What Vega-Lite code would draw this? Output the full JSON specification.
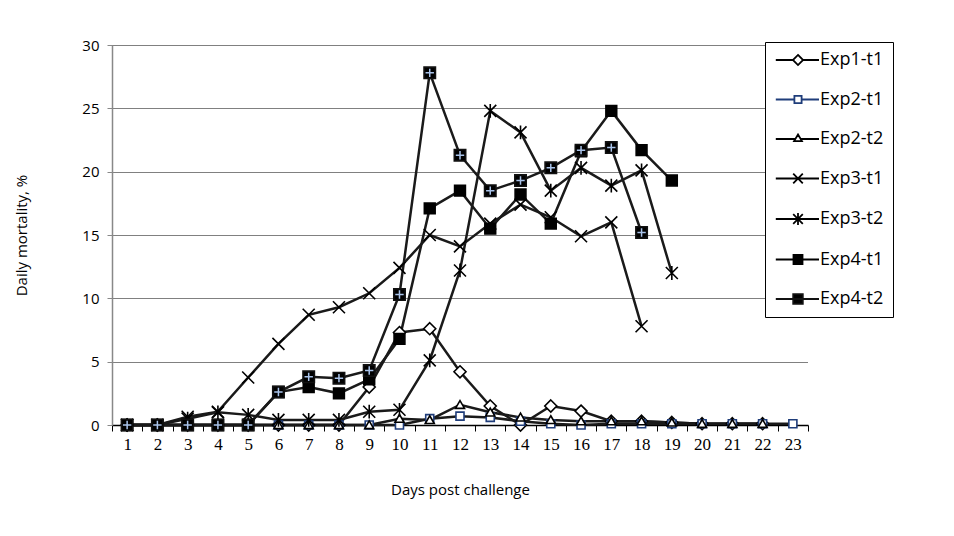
{
  "$schema": "https://vega.github.io/schema/vega-lite/v6.json",
  "width": 696,
  "height": 380,
  "autosize": {"type": "none"},
  "padding": {"left": 112, "top": 45, "right": 146, "bottom": 111},
  "background": "white",
  "config": {
    "view": {"stroke": null},
    "legend": {
      "orient": "none",
      "legendX": 653,
      "legendY": -3,
      "strokeColor": "black",
      "fillColor": "white",
      "padding": 9,
      "symbolSize": 144,
      "symbolStrokeWidth": 1.8,
      "symbolOffset": 15,
      "labelOffset": 13,
      "rowPadding": 21.5,
      "labelFont": "Open Sans",
      "labelFontSize": 18,
      "labelColor": "black",
      "cornerRadius": 0
    }
  },
  "data": {
    "values": [
      {"s":"Exp1-t1","d":1,"v":0},{"s":"Exp1-t1","d":2,"v":0},{"s":"Exp1-t1","d":3,"v":0},{"s":"Exp1-t1","d":4,"v":0},{"s":"Exp1-t1","d":5,"v":0},{"s":"Exp1-t1","d":6,"v":0},{"s":"Exp1-t1","d":7,"v":0},{"s":"Exp1-t1","d":8,"v":0},{"s":"Exp1-t1","d":9,"v":3.0},{"s":"Exp1-t1","d":10,"v":7.3},{"s":"Exp1-t1","d":11,"v":7.6},{"s":"Exp1-t1","d":12,"v":4.2},{"s":"Exp1-t1","d":13,"v":1.5},{"s":"Exp1-t1","d":14,"v":0},{"s":"Exp1-t1","d":15,"v":1.5},{"s":"Exp1-t1","d":16,"v":1.1},{"s":"Exp1-t1","d":17,"v":0.3},{"s":"Exp1-t1","d":18,"v":0.3},{"s":"Exp1-t1","d":19,"v":0.2},{"s":"Exp1-t1","d":20,"v":0.1},{"s":"Exp1-t1","d":21,"v":0.1},{"s":"Exp1-t1","d":22,"v":0.1},
      {"s":"Exp2-t1","d":1,"v":0},{"s":"Exp2-t1","d":2,"v":0},{"s":"Exp2-t1","d":3,"v":0},{"s":"Exp2-t1","d":4,"v":0},{"s":"Exp2-t1","d":5,"v":0},{"s":"Exp2-t1","d":6,"v":0},{"s":"Exp2-t1","d":7,"v":0},{"s":"Exp2-t1","d":8,"v":0},{"s":"Exp2-t1","d":9,"v":0},{"s":"Exp2-t1","d":10,"v":0},{"s":"Exp2-t1","d":11,"v":0.5},{"s":"Exp2-t1","d":12,"v":0.7},{"s":"Exp2-t1","d":13,"v":0.6},{"s":"Exp2-t1","d":14,"v":0.3},{"s":"Exp2-t1","d":15,"v":0.1},{"s":"Exp2-t1","d":16,"v":0},{"s":"Exp2-t1","d":17,"v":0.1},{"s":"Exp2-t1","d":18,"v":0.1},{"s":"Exp2-t1","d":19,"v":0.1},{"s":"Exp2-t1","d":20,"v":0.1},{"s":"Exp2-t1","d":21,"v":0.1},{"s":"Exp2-t1","d":22,"v":0.1},{"s":"Exp2-t1","d":23,"v":0.1},
      {"s":"Exp2-t2","d":1,"v":0},{"s":"Exp2-t2","d":2,"v":0},{"s":"Exp2-t2","d":3,"v":0},{"s":"Exp2-t2","d":4,"v":0},{"s":"Exp2-t2","d":5,"v":0},{"s":"Exp2-t2","d":6,"v":0},{"s":"Exp2-t2","d":7,"v":0},{"s":"Exp2-t2","d":8,"v":0},{"s":"Exp2-t2","d":9,"v":0},{"s":"Exp2-t2","d":10,"v":0.5},{"s":"Exp2-t2","d":11,"v":0.4},{"s":"Exp2-t2","d":12,"v":1.6},{"s":"Exp2-t2","d":13,"v":1.0},{"s":"Exp2-t2","d":14,"v":0.6},{"s":"Exp2-t2","d":15,"v":0.4},{"s":"Exp2-t2","d":16,"v":0.3},{"s":"Exp2-t2","d":17,"v":0.3},{"s":"Exp2-t2","d":18,"v":0.3},{"s":"Exp2-t2","d":19,"v":0.2},{"s":"Exp2-t2","d":20,"v":0.1},{"s":"Exp2-t2","d":21,"v":0.1},{"s":"Exp2-t2","d":22,"v":0.1},
      {"s":"Exp3-t1","d":1,"v":0},{"s":"Exp3-t1","d":2,"v":0},{"s":"Exp3-t1","d":3,"v":0.65},{"s":"Exp3-t1","d":4,"v":1.05},{"s":"Exp3-t1","d":5,"v":3.75},{"s":"Exp3-t1","d":6,"v":6.4},{"s":"Exp3-t1","d":7,"v":8.7},{"s":"Exp3-t1","d":8,"v":9.3},{"s":"Exp3-t1","d":9,"v":10.4},{"s":"Exp3-t1","d":10,"v":12.4},{"s":"Exp3-t1","d":11,"v":15.0},{"s":"Exp3-t1","d":12,"v":14.1},{"s":"Exp3-t1","d":13,"v":15.9},{"s":"Exp3-t1","d":14,"v":17.4},{"s":"Exp3-t1","d":15,"v":16.4},{"s":"Exp3-t1","d":16,"v":14.9},{"s":"Exp3-t1","d":17,"v":16.0},{"s":"Exp3-t1","d":18,"v":7.8},
      {"s":"Exp3-t2","d":1,"v":0},{"s":"Exp3-t2","d":2,"v":0},{"s":"Exp3-t2","d":3,"v":0.5},{"s":"Exp3-t2","d":4,"v":1.0},{"s":"Exp3-t2","d":5,"v":0.8},{"s":"Exp3-t2","d":6,"v":0.4},{"s":"Exp3-t2","d":7,"v":0.4},{"s":"Exp3-t2","d":8,"v":0.4},{"s":"Exp3-t2","d":9,"v":1.05},{"s":"Exp3-t2","d":10,"v":1.2},{"s":"Exp3-t2","d":11,"v":5.1},{"s":"Exp3-t2","d":12,"v":12.2},{"s":"Exp3-t2","d":13,"v":24.8},{"s":"Exp3-t2","d":14,"v":23.1},{"s":"Exp3-t2","d":15,"v":18.5},{"s":"Exp3-t2","d":16,"v":20.3},{"s":"Exp3-t2","d":17,"v":18.9},{"s":"Exp3-t2","d":18,"v":20.1},{"s":"Exp3-t2","d":19,"v":12.0},
      {"s":"Exp4-t1","d":1,"v":0},{"s":"Exp4-t1","d":2,"v":0},{"s":"Exp4-t1","d":3,"v":0},{"s":"Exp4-t1","d":4,"v":0},{"s":"Exp4-t1","d":5,"v":0},{"s":"Exp4-t1","d":6,"v":2.6},{"s":"Exp4-t1","d":7,"v":3.0},{"s":"Exp4-t1","d":8,"v":2.5},{"s":"Exp4-t1","d":9,"v":3.6},{"s":"Exp4-t1","d":10,"v":6.8},{"s":"Exp4-t1","d":11,"v":17.1},{"s":"Exp4-t1","d":12,"v":18.5},{"s":"Exp4-t1","d":13,"v":15.5},{"s":"Exp4-t1","d":14,"v":18.2},{"s":"Exp4-t1","d":15,"v":15.9},{"s":"Exp4-t1","d":16,"v":21.6},{"s":"Exp4-t1","d":17,"v":24.8},{"s":"Exp4-t1","d":18,"v":21.7},{"s":"Exp4-t1","d":19,"v":19.3},
      {"s":"Exp4-t2","d":1,"v":0},{"s":"Exp4-t2","d":2,"v":0},{"s":"Exp4-t2","d":3,"v":0},{"s":"Exp4-t2","d":4,"v":0},{"s":"Exp4-t2","d":5,"v":0},{"s":"Exp4-t2","d":6,"v":2.6},{"s":"Exp4-t2","d":7,"v":3.8},{"s":"Exp4-t2","d":8,"v":3.7},{"s":"Exp4-t2","d":9,"v":4.3},{"s":"Exp4-t2","d":10,"v":10.3},{"s":"Exp4-t2","d":11,"v":27.8},{"s":"Exp4-t2","d":12,"v":21.3},{"s":"Exp4-t2","d":13,"v":18.5},{"s":"Exp4-t2","d":14,"v":19.3},{"s":"Exp4-t2","d":15,"v":20.3},{"s":"Exp4-t2","d":16,"v":21.7},{"s":"Exp4-t2","d":17,"v":21.9},{"s":"Exp4-t2","d":18,"v":15.2}
    ]
  },
  "encoding": {
    "x": {
      "field": "d",
      "type": "quantitative",
      "scale": {"domain": [0.5, 23.5], "nice": false, "zero": false},
      "axis": {
        "values": [0.5,1.5,2.5,3.5,4.5,5.5,6.5,7.5,8.5,9.5,10.5,11.5,12.5,13.5,14.5,15.5,16.5,17.5,18.5,19.5,20.5,21.5,22.5,23.5],
        "labelExpr": "datum.value < 23 ? format(datum.value + 0.5, 'd') : ''",
        "labelOffset": 15.13,
        "labelFlush": false,
        "labelOverlap": false,
        "grid": false,
        "domainColor": "black",
        "domainWidth": 1.5,
        "tickColor": "black",
        "tickWidth": 1,
        "tickSize": 6,
        "labelFont": "Liberation Serif",
        "labelFontSize": 17,
        "labelColor": "black",
        "labelPadding": 5,
        "title": "Days post challenge",
        "titleFont": "Open Sans",
        "titleFontSize": 15,
        "titleFontWeight": "normal",
        "titleColor": "black",
        "titlePadding": 30
      }
    },
    "y": {
      "field": "v",
      "type": "quantitative",
      "scale": {"domain": [0, 30], "nice": false},
      "axis": {
        "values": [0, 5, 10, 15, 20, 25, 30],
        "grid": true,
        "gridDash": [1, 1],
        "gridColor": "black",
        "gridWidth": 1,
        "domainColor": "#888",
        "domainWidth": 1.5,
        "tickColor": "#888",
        "tickSize": 5,
        "labelFont": "Open Sans",
        "labelFontSize": 15,
        "labelColor": "black",
        "labelPadding": 8,
        "title": "Daily mortality, %",
        "titleFont": "Open Sans",
        "titleFontSize": 15,
        "titleFontWeight": "normal",
        "titleColor": "black",
        "titlePadding": 52
      }
    }
  },
  "layer": [
    {
      "mark": {"type": "line", "color": "#1a1a1a", "strokeWidth": 2.5},
      "encoding": {"detail": {"field": "s", "type": "nominal"}}
    },
    {
      "mark": {"type": "point", "filled": true, "size": 144, "strokeWidth": 1.6, "opacity": 1},
      "encoding": {
        "shape": {
          "field": "s",
          "type": "nominal",
          "legend": null,
          "scale": {
            "domain": ["Exp1-t1","Exp2-t1","Exp2-t2","Exp3-t1","Exp3-t2","Exp4-t1","Exp4-t2"],
            "range": [
              "M0,-1L1,0L0,1L-1,0Z",
              "M-0.67,-0.67H0.67V0.67H-0.67Z",
              "M0,-0.7L0.75,0.6H-0.75Z",
              "M-1,-1L1,1M1,-1L-1,1",
              "M-1,-1L1,1M1,-1L-1,1M0,-1.15V1.15",
              "M-0.9,-0.9H0.9V0.9H-0.9Z",
              "M-0.95,-0.95H0.95V0.95H-0.95Z"
            ]
          }
        },
        "fill": {
          "field": "s",
          "type": "nominal",
          "legend": null,
          "scale": {
            "domain": ["Exp1-t1","Exp2-t1","Exp2-t2","Exp3-t1","Exp3-t2","Exp4-t1","Exp4-t2"],
            "range": ["white","white","white","white","white","black","black"]
          }
        },
        "stroke": {
          "field": "s",
          "type": "nominal",
          "legend": null,
          "scale": {
            "domain": ["Exp1-t1","Exp2-t1","Exp2-t2","Exp3-t1","Exp3-t2","Exp4-t1","Exp4-t2"],
            "range": ["black","#1f3d7a","black","black","black","black","#111"]
          }
        }
      }
    },
    {
      "transform": [{"filter": "datum.s === 'Exp4-t2'"}],
      "mark": {"type": "point", "shape": "M-0.7,0H0.7M0,-0.7V0.7", "size": 144, "stroke": "#a9c3ea", "strokeWidth": 1.5, "filled": false, "opacity": 1}
    },
    {
      "transform": [{"filter": "datum.d > 100"}],
      "mark": {"type": "point", "filled": true, "size": 144, "strokeWidth": 1.6, "opacity": 1},
      "encoding": {
        "shape": {
          "field": "s",
          "type": "nominal",
          "legend": {"title": null},
          "scale": {
            "domain": ["Exp1-t1","Exp2-t1","Exp2-t2","Exp3-t1","Exp3-t2","Exp4-t1","Exp4-t2"],
            "range": [
              "M-3.7,0H-0.85M0.85,0H3.5M0,-0.85L0.85,0L0,0.85L-0.85,0Z",
              "M-3.7,0H-0.6M0.6,0H3.5M-0.6,-0.6H0.6V0.6H-0.6Z",
              "M-3.7,0H-0.45M0.45,0H3.5M0,-0.75L0.65,0.35H-0.65Z",
              "M-3.7,0H3.5M-0.8,-0.8L0.8,0.8M0.8,-0.8L-0.8,0.8",
              "M-3.7,0H3.5M-0.8,-0.8L0.8,0.8M0.8,-0.8L-0.8,0.8M0,-1V1",
              "M-3.7,0H3.5M-0.75,-0.75H0.75V0.75H-0.75Z",
              "M-3.7,0H3.5M-0.8,-0.8H0.8V0.8H-0.8Z"
            ]
          }
        },
        "fill": {
          "field": "s",
          "type": "nominal",
          "legend": {"title": null},
          "scale": {
            "domain": ["Exp1-t1","Exp2-t1","Exp2-t2","Exp3-t1","Exp3-t2","Exp4-t1","Exp4-t2"],
            "range": ["white","white","white","white","white","black","black"]
          }
        },
        "stroke": {
          "field": "s",
          "type": "nominal",
          "legend": {"title": null},
          "scale": {
            "domain": ["Exp1-t1","Exp2-t1","Exp2-t2","Exp3-t1","Exp3-t2","Exp4-t1","Exp4-t2"],
            "range": ["black","#1f3d7a","black","black","black","black","#111"]
          }
        }
      }
    }
  ],
  "resolve": {
    "scale": {"shape": "independent", "fill": "independent", "stroke": "independent"},
    "legend": {"shape": "independent", "fill": "independent", "stroke": "independent"}
  }
}
